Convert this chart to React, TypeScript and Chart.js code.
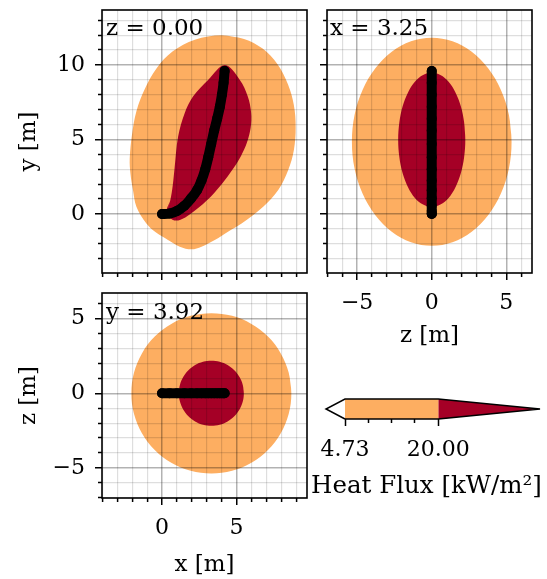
import React, { useEffect, useRef } from 'react';
import { Chart, registerables } from 'chart.js';

Chart.register(...registerables);

type P = [number, number];

// ---- Data -------------------------------------------------------------
// Flame trajectory (metres)
const trajX = [0, 0.5, 1.0, 1.5, 1.95, 2.35, 2.65, 2.9, 3.1, 3.3, 3.5, 3.7, 3.88, 4.02, 4.13, 4.2];
const trajY = [0, 0.03, 0.2, 0.55, 1.05, 1.6, 2.25, 3.0, 3.8, 4.7, 5.6, 6.4, 7.2, 8.0, 8.8, 9.6];
const trajZ = [0, 0, 0, 0, 0, 0, 0, 0, 0, 0, 0, 0, 0, 0, 0, 0];

// Slice z = 0.00 : (x, y) contour boundaries
const sliceZ = '0.00';
const xyOuter: P[] = [
  [4.0, 12.0], [5.5, 11.75], [6.75, 11.1], [7.75, 10.05], [8.45, 8.7], [8.85, 7.3], [8.97, 5.8],
  [8.85, 4.3], [8.47, 2.95], [7.8, 1.61], [6.79, 0.49], [5.34, -0.63], [4.48, -1.15],
  [3.54, -1.74], [2.65, -2.19], [1.98, -2.37], [1.19, -2.19], [0.4, -1.74], [-0.4, -1.25],
  [-1.05, -0.63], [-1.72, 0.49], [-1.95, 1.61], [-2.12, 2.7], [-2.17, 3.7], [-2.02, 5.3],
  [-1.72, 6.9], [-1.15, 8.4], [-0.35, 9.8], [0.7, 10.9], [2.2, 11.7], [4.0, 12.0],
];
const xyInner: P[] = [
  [0.3, 0.1], [0.55, 0.9], [0.72, 1.93], [0.84, 3.05], [1.08, 5.2], [1.53, 6.8], [2.09, 7.9],
  [3.09, 9.0], [4.22, 10.0], [5.22, 9.0], [5.75, 7.9], [5.98, 6.8], [5.95, 5.8], [5.7, 4.8],
  [5.3, 3.9], [4.78, 3.05], [4.0, 2.0], [3.0, 0.9], [1.9, 0.0], [1.2, -0.4], [0.7, -0.38],
  [0.3, 0.1],
];

// Slice x = 3.25 : (z, y) contour boundaries
const sliceX = '3.25';
const zyOuter: P[] = [
  [5.35, 4.85], [5.17, 6.66], [4.63, 8.34], [3.78, 9.78], [2.68, 10.89], [1.39, 11.59],
  [0, 11.83], [-1.39, 11.59], [-2.68, 10.89], [-3.78, 9.78], [-4.63, 8.34], [-5.17, 6.66],
  [-5.35, 4.85], [-5.17, 3.04], [-4.63, 1.36], [-3.78, -0.08], [-2.68, -1.19], [-1.39, -1.89],
  [0, -2.13], [1.39, -1.89], [2.68, -1.19], [3.78, -0.08], [4.63, 1.36], [5.17, 3.04],
  [5.35, 4.85],
];
const zyInner: P[] = [
  [2.25, 4.98], [2.17, 6.15], [1.95, 7.23], [1.59, 8.16], [1.13, 8.88], [0.58, 9.33],
  [0, 9.48], [-0.58, 9.33], [-1.13, 8.88], [-1.59, 8.16], [-1.95, 7.23], [-2.17, 6.15],
  [-2.25, 4.98], [-2.17, 3.81], [-1.95, 2.73], [-1.59, 1.8], [-1.13, 1.08], [-0.58, 0.63],
  [0, 0.48], [0.58, 0.63], [1.13, 1.08], [1.59, 1.8], [1.95, 2.73], [2.17, 3.81],
  [2.25, 4.98],
];

// Slice y = 3.92 : (x, z) contour boundaries
const sliceY = '3.92';
const xzOuter: P[] = [
  [8.68, 0], [8.5, 1.39], [7.96, 2.69], [7.11, 3.8], [6.0, 4.65], [4.7, 5.19], [3.31, 5.37],
  [1.92, 5.19], [0.62, 4.65], [-0.49, 3.8], [-1.34, 2.69], [-1.88, 1.39], [-2.06, 0],
  [-1.88, -1.39], [-1.34, -2.69], [-0.49, -3.8], [0.62, -4.65], [1.92, -5.19], [3.31, -5.37],
  [4.7, -5.19], [6.0, -4.65], [7.11, -3.8], [7.96, -2.69], [8.5, -1.39], [8.68, 0],
];
const xzInner: P[] = [
  [5.49, 0], [5.42, 0.56], [5.2, 1.09], [4.85, 1.54], [4.4, 1.89], [3.87, 2.11], [3.31, 2.18],
  [2.75, 2.11], [2.22, 1.89], [1.77, 1.54], [1.42, 1.09], [1.2, 0.56], [1.13, 0],
  [1.2, -0.56], [1.42, -1.09], [1.77, -1.54], [2.22, -1.89], [2.75, -2.11], [3.31, -2.18],
  [3.87, -2.11], [4.4, -1.89], [4.85, -1.54], [5.2, -1.09], [5.42, -0.56], [5.49, 0],
];

// Colour bar (heat flux, kW/m^2)
const fluxLevels = [4.73, 20.0];
const fluxMinorTicks = [8.55, 12.37, 16.18];
const fluxUnderTip = 1.62;
const fluxOverTip = 36.65;

// Axis limits
const xRange = [-4.03, 9.73];
const yRange = [-3.96, 13.69];
const zRange = [-7.02, 6.72];

// ---- Styling ----------------------------------------------------------
const W = 547;
const H = 579;
const COLOR_LOW = '#FDAE61';
const COLOR_HIGH = '#A50026';
const FAMILY = "'DejaVu Serif', 'Liberation Serif', serif";
const tickFont = { family: FAMILY, size: 22 };
const titleFont = { family: FAMILY, size: 23 };

const fmt = (v: number) => (v < 0 ? '\u2212' + Math.abs(v) : String(v));
const isMajor = (v: number) => Math.abs(v % 5) < 1e-9;
const toPts = (arr: P[]) => arr.map(([x, y]) => ({ x, y }));
// closed outline: repeat the second vertex so the smoothed curve has no corner where it closes
const closedPts = (arr: P[]) => toPts([...arr, arr[1]]);

const framePlugin = {
  id: 'frame',
  afterDraw(chart: any, _args: any, opts: any) {
    if (!opts || !opts.show) return;
    const { ctx, chartArea: a } = chart;
    ctx.save();
    ctx.strokeStyle = '#000';
    ctx.lineWidth = 1.6;
    ctx.strokeRect(a.left, a.top, a.right - a.left, a.bottom - a.top);
    ctx.restore();
  },
};

function makeAxis(o: {
  position: 'left' | 'bottom';
  range: number[];
  size: number;
  labels: boolean;
  title?: string;
}) {
  const horizontal = o.position === 'bottom';
  return {
    type: 'linear',
    position: o.position,
    min: o.range[0],
    max: o.range[1],
    afterFit: (s: any) => {
      if (horizontal) s.height = o.size;
      else s.width = o.size;
      s.paddingTop = 0;
      s.paddingBottom = 0;
      s.paddingLeft = 0;
      s.paddingRight = 0;
    },
    ticks: {
      stepSize: 1,
      includeBounds: false,
      autoSkip: false,
      maxRotation: 0,
      minRotation: 0,
      padding: 10,
      color: '#000',
      font: tickFont,
      callback: (v: number) => (o.labels && isMajor(v) ? fmt(v) : ''),
    },
    grid: {
      z: 1,
      drawTicks: true,
      tickLength: 7,
      color: (c: any) => (c.tick && isMajor(c.tick.value) ? 'rgba(0,0,0,0.3)' : 'rgba(0,0,0,0.13)'),
      lineWidth: (c: any) => (c.tick && isMajor(c.tick.value) ? 1.5 : 1.2),
      tickColor: '#000',
      tickWidth: 1.5,
      tickBorderDash: (c: any) =>
        c.tick && isMajor(c.tick.value) ? [] : horizontal ? [4, 40] : [0, 3, 4, 40],
    },
    border: { display: false },
    title: {
      display: !!o.title,
      text: o.title || '',
      color: '#000',
      font: titleFont,
      padding: horizontal ? { top: 0, bottom: 0 } : { top: 15, bottom: 0 },
    },
  };
}

function shapeDataset(label: string, data: any[], color: string, order: number, tension: number) {
  return {
    label,
    data,
    showLine: true,
    fill: 'shape',
    backgroundColor: color,
    borderColor: 'rgba(0,0,0,0)',
    borderWidth: 1,
    pointRadius: 0,
    tension,
    order,
  };
}

function pathDataset(a: number[], b: number[]) {
  return {
    label: 'trajectory',
    data: a.map((v, i) => ({ x: v, y: b[i] })),
    showLine: true,
    fill: false,
    borderColor: '#000',
    borderWidth: 10,
    borderCapStyle: 'round',
    borderJoinStyle: 'round',
    tension: 0.3,
    pointRadius: 5,
    pointBackgroundColor: '#000',
    pointBorderWidth: 0,
    order: 1,
  };
}

function panelConfig(o: {
  outer: P[];
  inner: P[];
  pa: number[];
  pb: number[];
  xAxis: any;
  yAxis: any;
  padding: any;
}) {
  return {
    type: 'scatter',
    data: {
      datasets: [
        pathDataset(o.pa, o.pb),
        shapeDataset('\u2265 20.00 kW/m\u00b2', closedPts(o.inner), COLOR_HIGH, 2, 0.35),
        shapeDataset('4.73\u201320.00 kW/m\u00b2', closedPts(o.outer), COLOR_LOW, 3, 0.35),
      ],
    },
    options: {
      responsive: false,
      animation: false,
      devicePixelRatio: 1,
      events: [],
      layout: { padding: o.padding, autoPadding: false },
      scales: { x: o.xAxis, y: o.yAxis },
      plugins: { legend: { display: false }, tooltip: { enabled: false }, frame: { show: true } },
    },
    plugins: [framePlugin],
  };
}

const configA = () =>
  panelConfig({
    outer: xyOuter,
    inner: xyInner,
    pa: trajX,
    pb: trajY,
    xAxis: makeAxis({ position: 'bottom', range: xRange, size: 10, labels: false }),
    yAxis: makeAxis({ position: 'left', range: yRange, size: 102, labels: true, title: 'y [m]' }),
    padding: { left: 0, top: 10, right: W - 307, bottom: H - 273 - 10 },
  });

const configB = () =>
  panelConfig({
    outer: zyOuter,
    inner: zyInner,
    pa: trajZ,
    pb: trajY,
    xAxis: makeAxis({ position: 'bottom', range: zRange, size: 77, labels: true, title: 'z [m]' }),
    yAxis: makeAxis({ position: 'left', range: yRange, size: 10, labels: false }),
    padding: { left: 317, top: 10, right: W - 532, bottom: H - 273 - 77 },
  });

const configC = () =>
  panelConfig({
    outer: xzOuter,
    inner: xzInner,
    pa: trajX,
    pb: trajZ,
    xAxis: makeAxis({ position: 'bottom', range: xRange, size: 81, labels: true, title: 'x [m]' }),
    yAxis: makeAxis({ position: 'left', range: zRange, size: 102, labels: true, title: 'z [m]' }),
    padding: { left: 0, top: 293, right: W - 307, bottom: H - 498 - 81 },
  });

const configBar = () => {
  const [lo, hi] = fluxLevels;
  return {
    type: 'scatter',
    data: {
      datasets: [
        {
          label: 'outline',
          data: toPts([[lo, 0], [fluxUnderTip, 0.5], [lo, 1], [hi, 1], [fluxOverTip, 0.5], [hi, 0], [lo, 0]]),
          showLine: true,
          fill: false,
          borderColor: '#000',
          borderWidth: 1.5,
          borderJoinStyle: 'miter',
          pointRadius: 0,
          clip: false,
          order: 1,
        },
        shapeDataset('band', toPts([[lo, 0], [hi, 0], [hi, 1], [lo, 1], [lo, 0]]), COLOR_LOW, 2, 0),
        shapeDataset('over', toPts([[hi, 0], [fluxOverTip, 0.5], [hi, 1], [hi, 0]]), COLOR_HIGH, 3, 0),
        shapeDataset('under', toPts([[lo, 0], [fluxUnderTip, 0.5], [lo, 1], [lo, 0]]), '#ffffff', 4, 0),
      ],
    },
    options: {
      responsive: false,
      animation: false,
      devicePixelRatio: 1,
      events: [],
      layout: { padding: { left: 306, right: 0, top: 399, bottom: H - 419 - 82 }, autoPadding: false },
      scales: {
        x: {
          type: 'linear',
          position: 'bottom',
          min: -1.653,
          max: 37.79,
          afterBuildTicks: (s: any) => {
            s.ticks = [...fluxLevels, ...fluxMinorTicks].sort((a, b) => a - b).map((value) => ({ value }));
          },
          afterFit: (s: any) => {
            s.height = 82;
            s.paddingTop = 0;
            s.paddingBottom = 0;
            s.paddingLeft = 0;
            s.paddingRight = 0;
          },
          ticks: {
            autoSkip: false,
            maxRotation: 0,
            minRotation: 0,
            padding: 11,
            color: '#000',
            font: tickFont,
            callback: (v: number) => (fluxLevels.includes(v) ? v.toFixed(2) : ''),
          },
          grid: {
            drawOnChartArea: false,
            drawTicks: true,
            tickLength: 7,
            tickColor: '#000',
            tickWidth: 1.5,
            tickBorderDash: (c: any) => (c.tick && fluxLevels.includes(c.tick.value) ? [] : [4, 40]),
          },
          border: { display: false },
          title: {
            display: true,
            text: 'Heat Flux [kW/m\u00b2]',
            color: '#000',
            font: { family: FAMILY, size: 24.5 },
            padding: { top: 0, bottom: 0 },
          },
        },
        y: { type: 'linear', display: false, min: 0, max: 1 },
      },
      plugins: { legend: { display: false }, tooltip: { enabled: false } },
    },
  };
};

function ChartLayer({ make }: { make: () => any }) {
  const ref = useRef<HTMLCanvasElement>(null);
  useEffect(() => {
    const chart = new Chart(ref.current as HTMLCanvasElement, make());
    return () => chart.destroy();
  }, [make]);
  return (
    <canvas
      ref={ref}
      width={W}
      height={H}
      style={{ position: 'absolute', left: 0, top: 0, width: W, height: H }}
    />
  );
}

const noteStyle = (left: number, top: number): React.CSSProperties => ({
  position: 'absolute',
  left,
  top,
  fontFamily: FAMILY,
  fontSize: 23,
  lineHeight: '23px',
  color: '#000',
  whiteSpace: 'nowrap',
  pointerEvents: 'none',
});

export default function App() {
  return (
    <div
      style={{
        position: 'fixed',
        left: 0,
        top: 0,
        width: W,
        height: H,
        background: '#fff',
        overflow: 'hidden',
      }}
    >
      <ChartLayer make={configA} />
      <ChartLayer make={configB} />
      <ChartLayer make={configC} />
      <ChartLayer make={configBar} />
      <div style={noteStyle(106, 16)}>z = {sliceZ}</div>
      <div style={noteStyle(330, 16)}>x = {sliceX}</div>
      <div style={noteStyle(106, 300)}>y = {sliceY}</div>
    </div>
  );
}
